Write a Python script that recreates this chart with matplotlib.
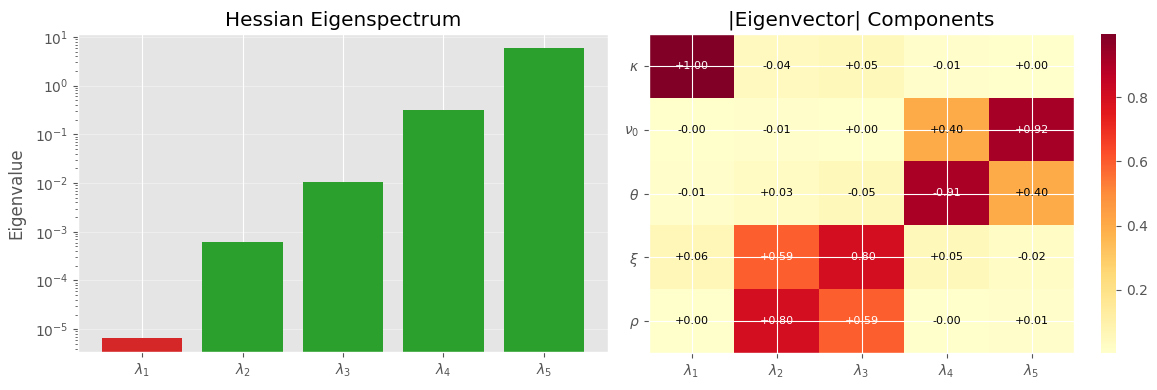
import numpy as np
import matplotlib
matplotlib.use("Agg")
import matplotlib.pyplot as plt

eig_labels = [r"$\lambda_1$", r"$\lambda_2$", r"$\lambda_3$", r"$\lambda_4$", r"$\lambda_5$"]
eigenvalues = [6.5e-6, 6.2e-4, 1.05e-2, 0.31, 5.8]
bar_colors = ["#d62728", "#2ca02c", "#2ca02c", "#2ca02c", "#2ca02c"]

param_labels = [r"$\kappa$", r"$\nu_0$", r"$\theta$", r"$\xi$", r"$\rho$"]
eigvecs = np.array([
    [0.998, -0.04, 0.05, -0.01, 0.003],
    [-0.002, -0.01, 0.004, 0.40, 0.92],
    [-0.01, 0.03, -0.05, -0.91, 0.40],
    [0.06, 0.59, -0.80, 0.05, -0.02],
    [0.003, 0.80, 0.59, -0.004, 0.01],
])

plt.style.use("ggplot")
fig = plt.figure(figsize=(11.57, 3.9), dpi=100)
W, H = 1157, 390
ax1 = fig.add_axes([78 / W, 38 / H, 530 / W, 318 / H])
ax2 = fig.add_axes([649 / W, 37 / H, 425 / W, 319 / H])
cax = fig.add_axes([1101 / W, 37 / H, 15 / W, 319 / H])

x = np.arange(len(eigenvalues))
ax1.bar(x, eigenvalues, color=bar_colors)
ax1.set_yscale("log")
ax1.set_ylim(3.4e-6, 11.5)
ax1.set_xticks(x)
ax1.set_xticklabels(eig_labels)
ax1.set_ylabel("Eigenvalue")
ax1.yaxis.set_label_coords(-0.1, 0.5)
ax1.yaxis.grid(True, alpha=0.35)
ax1.set_title("Hessian Eigenspectrum")

im = ax2.imshow(np.abs(eigvecs), cmap="YlOrRd", aspect="auto")
ax2.set_xticks(range(5))
ax2.set_xticklabels(eig_labels)
ax2.set_yticks(range(5))
ax2.set_yticklabels(param_labels)
ax2.set_title("|Eigenvector| Components")
for i in range(5):
    for j in range(5):
        v = eigvecs[i, j]
        ax2.text(j, i, f"{v:+.2f}", ha="center", va="center", fontsize=8,
                 color="white" if abs(v) > 0.5 else "black")
cb = fig.colorbar(im, cax=cax)
cb.outline.set_visible(False)

plt.savefig("out.png")
